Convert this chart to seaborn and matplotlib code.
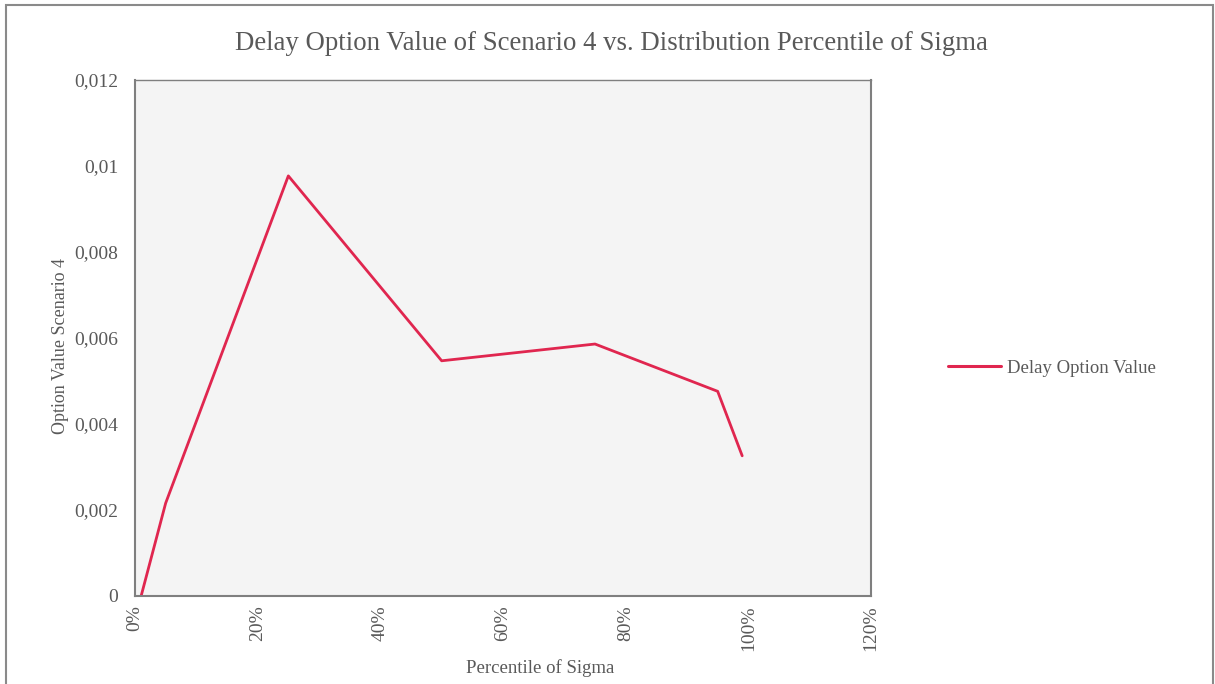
import matplotlib
matplotlib.use("Agg")
import matplotlib.pyplot as plt
from matplotlib.patches import Rectangle
import seaborn as sns
import pandas as pd

# Sigma distribution percentiles and the corresponding delay option values
percentiles = [0.01, 0.05, 0.25, 0.50, 0.75, 0.95, 0.99]
option_values = [0.0, 0.00216, 0.00977, 0.00547, 0.00586, 0.00476, 0.00326]

x_ticks = [0.0, 0.2, 0.4, 0.6, 0.8, 1.0, 1.2]
x_tick_labels = ["0%", "20%", "40%", "60%", "80%", "100%", "120%"]
y_ticks = [0.0, 0.002, 0.004, 0.006, 0.008, 0.010, 0.012]
y_tick_labels = ["0", "0,002", "0,004", "0,006", "0,008", "0,01", "0,012"]

series_name = "Delay Option Value"
df = pd.DataFrame({"Percentile": percentiles, "Value": option_values, "Series": series_name})

sns.set_style("white")
plt.rcParams["font.family"] = ["Liberation Serif", "DejaVu Serif"]

text_color = "#595959"
axis_color = "#7f7f7f"
line_color = "#E0264F"

W, H = 1215, 684
fig = plt.figure(figsize=(W / 100, H / 100), dpi=100)
ax = fig.add_axes([135 / W, 88 / H, (871 - 135) / W, (596 - 80) / H])
ax.set_facecolor("#f4f4f4")

sns.lineplot(data=df, x="Percentile", y="Value", hue="Series", palette=[line_color],
             linewidth=2, ax=ax, legend=True)

ax.set_xlim(0, 1.2)
ax.set_ylim(0, 0.012)
ax.set_xticks(x_ticks)
ax.set_xticklabels(x_tick_labels, rotation=90, fontsize=14, color=text_color)
ax.set_yticks(y_ticks)
ax.set_yticklabels(y_tick_labels, fontsize=14, color=text_color)
ax.tick_params(axis="both", length=5, width=1.2, color=axis_color, direction="out")
ax.tick_params(axis="y", pad=7)
ax.tick_params(axis="x", pad=1.5)

for side in ["left", "bottom", "right", "top"]:
    ax.spines[side].set_color(axis_color)
    ax.spines[side].set_linewidth(1.5)
ax.spines["top"].set_linewidth(1.0)

ax.set_xlabel("Percentile of Sigma", fontsize=13.5, color=text_color)
ax.xaxis.set_label_coords((540 - 135) / 736, (596 - 659) / 516)
ax.set_ylabel("Option Value Scenario 4", fontsize=13, color=text_color)
ax.yaxis.set_label_coords((69 - 135) / 736, (596 - 346) / 516)

fig.text(611 / W, 1 - 43 / H, "Delay Option Value of Scenario 4 vs. Distribution Percentile of Sigma",
         ha="center", va="center", fontsize=19.3, color=text_color)

handles, labels = ax.get_legend_handles_labels()
leg = ax.legend(handles, labels, loc="center left", bbox_to_anchor=(948 / W, 1 - 368 / H),
                bbox_transform=fig.transFigure, frameon=False, fontsize=13.5,
                handlelength=2.85, handletextpad=0.3, borderpad=0, borderaxespad=0,
                labelcolor=text_color)
for h in leg.get_lines():
    h.set_linewidth(2.2)

fig.patches.append(Rectangle((6 / W, -0.05), 1207 / W, 1.05 - 5 / H,
                             transform=fig.transFigure, fill=False,
                             edgecolor="#8a8a8a", linewidth=1.5))

fig.savefig("out.png", dpi=100)
